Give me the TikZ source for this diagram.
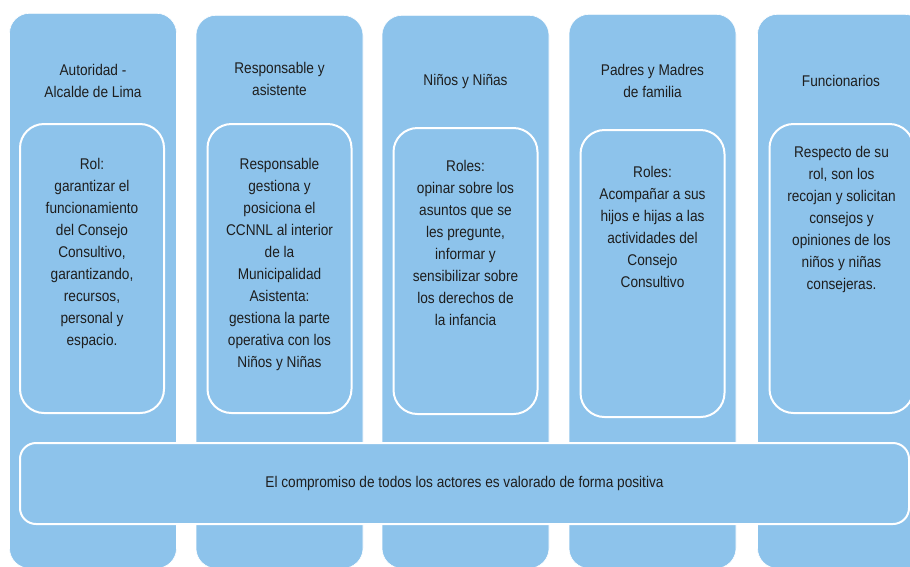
\documentclass[tikz,border=0pt]{standalone}
\usepackage{fontspec}
\setmainfont{Liberation Sans}[FakeStretch=0.88]
\definecolor{colblue}{RGB}{141,195,235}
\definecolor{txtgray}{RGB}{30,30,30}
\begin{document}
\begin{tikzpicture}[x=1pt, y=-1pt, ultra thick,
  column node/.style={rectangle,rounded corners=20pt,fill=colblue,draw=white,line width=.6pt,anchor=north,minimum width=167pt},
  inner node/.style={rectangle,rounded corners=24pt,fill=colblue,draw=white,line width=2pt,anchor=north,minimum width=144pt},
  label node/.style={align=center,inner sep=0pt,text=txtgray,font=\fontsize{15.5}{22}\selectfont}]
\clip (0,0) rectangle (910,566);
\fill[white] (0,0) rectangle (910,566);
\begin{scope}
\node[column node,minimum height=555pt] (c1) at (93,13) {};%1
\node[column node,minimum height=553pt] (c2) at (279.5,15) {};%2
\node[column node,minimum height=553pt] (c3) at (465.5,15) {};%3
\node[column node,minimum height=554pt] (c4) at (652.5,14) {};%4
\node[column node,minimum height=554pt] (c5) at (841,14) {};%5
\end{scope}
\begin{scope}
\node[inner node,minimum height=289pt] (r1) at (92,123) {};%1
\node[inner node,minimum height=289pt] (r2) at (279.5,123) {};%2
\node[inner node,minimum height=286pt] (r3) at (465.5,127) {};%3
\node[inner node,minimum height=287pt] (r4) at (652.5,129) {};%4
\node[inner node,minimum height=289pt] (r5) at (841.5,123) {};%5
\node[inner node,minimum width=889pt,minimum height=81pt,rounded corners=16pt] (all) at (464.5,442) {};
\end{scope}
\begin{scope}[every node/.style={label node}]
\node (h1) at (93,81) {Autoridad -\\Alcalde de Lima};%1
\node (h2) at (279.5,79) {Responsable y\\asistente};%2
\node (h3) at (465.5,81) {Niños y Niñas};%3
\node (h4) at (652.5,81) {Padres y Madres\\de familia};%4
\node (h5) at (841,81) {Funcionarios};%5
\node[anchor=north] (t1) at (92,157) {Rol:\\garantizar el\\funcionamiento\\del Consejo\\Consultivo,\\garantizando,\\recursos,\\personal y\\espacio.};%1
\node[anchor=north] (t2) at (279.5,157) {Responsable\\gestiona y\\posiciona el\\CCNNL al interior\\de la\\Municipalidad\\Asistenta:\\gestiona la parte\\operativa con los\\Niños y Niñas};%2
\node[anchor=north] (t3) at (465.5,159) {Roles:\\opinar sobre los\\asuntos que se\\les pregunte,\\informar y\\sensibilizar sobre\\los derechos de\\la infancia};%3
\node[anchor=north] (t4) at (652.5,165) {Roles:\\Acompañar a sus\\hijos e hijas a las\\actividades del\\Consejo\\Consultivo};%4
\node[anchor=north] (t5) at (841.5,145) {Respecto de su\\rol, son los\\recojan y solicitan\\consejos y\\opiniones de los\\niños y niñas\\consejeras.};%5
\node (t6) at (all.center) {El compromiso de todos los actores es valorado de forma positiva};
\end{scope}
\end{tikzpicture}
\end{document}
